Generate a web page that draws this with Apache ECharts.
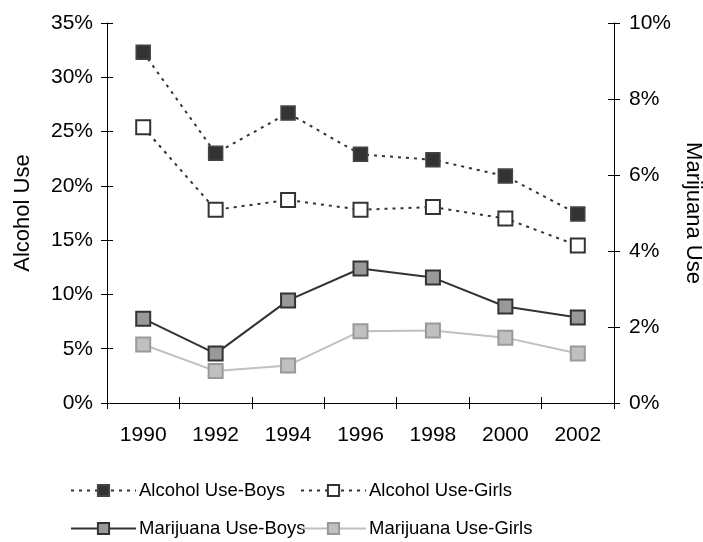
<!DOCTYPE html>
<html>
<head>
<meta charset="utf-8">
<script src="https://cdn.jsdelivr.net/npm/echarts@6/dist/echarts.min.js"></script>
<style>
html,body{margin:0;padding:0;background:#fff;}
#chart{width:703px;height:542px;}
</style>
</head>
<body>
<div id="chart"></div>
<script>
const years = ['1990','1992','1994','1996','1998','2000','2002'];
const alcoholBoys  = [32.3, 23.0, 26.7, 22.9, 22.4, 20.9, 17.4];
const alcoholGirls = [25.4, 17.8, 18.7, 17.8, 18.05, 17.0, 14.5];
const marijuanaBoys  = [2.22, 1.30, 2.70, 3.54, 3.30, 2.54, 2.25];
const marijuanaGirls = [1.54, 0.84, 0.99, 1.89, 1.91, 1.72, 1.30];
const seriesNames = ['Alcohol Use-Boys','Alcohol Use-Girls','Marijuana Use-Boys','Marijuana Use-Girls'];

const FONT = 'Liberation Sans, Arial, sans-serif';
const chart = echarts.init(document.getElementById('chart'), null, {renderer:'canvas'});

const axisLineStyle = {show:true, lineStyle:{color:'#000', width:1}};
const legendBase = {
  orient:'horizontal', itemWidth:65, itemHeight:14, itemGap:0,
  textStyle:{fontFamily:FONT, fontSize:18.5, color:'#000', padding:[0,0,0,-2]},
  padding:0
};

chart.setOption({
  animation:false,
  backgroundColor:'#fff',
  grid:{left:107, right:89, top:23, bottom:139, containLabel:false, outerBoundsMode:'none'},
  xAxis:[
    {type:'category', data:years, boundaryGap:true, position:'bottom',
     axisLine:axisLineStyle,
     axisTick:{show:true, length:6, inside:false, lineStyle:{color:'#000'}},
     axisLabel:{fontFamily:FONT, fontSize:21, color:'#000', margin:22},
     splitLine:{show:false}},
    {type:'category', data:years, boundaryGap:true, position:'bottom',
     axisLine:{show:false},
     axisTick:{show:true, length:6, inside:true, lineStyle:{color:'#000'}},
     axisLabel:{show:false}, splitLine:{show:false}}
  ],
  yAxis:[
    {type:'value', min:0, max:35, interval:5, position:'left',
     name:'Alcohol Use', nameLocation:'middle', nameGap:73, nameRotate:90,
     nameTextStyle:{fontFamily:FONT, fontSize:22, color:'#000'},
     axisLine:axisLineStyle,
     axisTick:{show:true, length:6, lineStyle:{color:'#000'}},
     axisLabel:{fontFamily:FONT, fontSize:21, color:'#000', margin:14, formatter:v=>v+'%'},
     splitLine:{show:false}},
    {type:'value', min:0, max:10, interval:2, position:'right',
     name:'Marijuana Use', nameLocation:'middle', nameGap:66, nameRotate:-90,
     nameTextStyle:{fontFamily:FONT, fontSize:22, color:'#000'},
     axisLine:axisLineStyle,
     axisTick:{show:true, length:6, lineStyle:{color:'#000'}},
     axisLabel:{fontFamily:FONT, fontSize:21, color:'#000', margin:15, formatter:v=>v+'%'},
     splitLine:{show:false}},
    {type:'value', min:0, max:35, interval:5, position:'left',
     axisLine:{show:false}, axisTick:{show:true, inside:true, length:6, lineStyle:{color:'#000'}},
     axisLabel:{show:false}, splitLine:{show:false}},
    {type:'value', min:0, max:10, interval:2, position:'right',
     axisLine:{show:false}, axisTick:{show:true, inside:true, length:6, lineStyle:{color:'#000'}},
     axisLabel:{show:false}, splitLine:{show:false}}
  ],
  legend:[
    Object.assign({}, legendBase, {data:[seriesNames[0]], left:70, top:481}),
    Object.assign({}, legendBase, {data:[seriesNames[1]], left:300, top:481}),
    Object.assign({}, legendBase, {data:[seriesNames[2]], left:70, top:519}),
    Object.assign({}, legendBase, {data:[seriesNames[3]], left:300, top:519})
  ],
  series:[
    {name:seriesNames[0], type:'line', data:alcoholBoys, yAxisIndex:0, xAxisIndex:0,
     symbol:'rect', symbolSize:14, showSymbol:true,
     lineStyle:{color:'#333', width:2, type:[3,5]},
     itemStyle:{color:'#333', borderColor:'#444', borderWidth:1.5}, z:4},
    {name:seriesNames[1], type:'line', data:alcoholGirls, yAxisIndex:0, xAxisIndex:0,
     symbol:'rect', symbolSize:14, showSymbol:true,
     lineStyle:{color:'#333', width:2, type:[3,5]},
     itemStyle:{color:'#fff', borderColor:'#333', borderWidth:2}, z:4},
    {name:seriesNames[2], type:'line', data:marijuanaBoys, yAxisIndex:1, xAxisIndex:0,
     symbol:'rect', symbolSize:14, showSymbol:true,
     lineStyle:{color:'#333', width:2, type:'solid'},
     itemStyle:{color:'#999', borderColor:'#333', borderWidth:2}, z:3},
    {name:seriesNames[3], type:'line', data:marijuanaGirls, yAxisIndex:1, xAxisIndex:0,
     symbol:'rect', symbolSize:14, showSymbol:true,
     lineStyle:{color:'#c0c0c0', width:2, type:'solid'},
     itemStyle:{color:'#c0c0c0', borderColor:'#999', borderWidth:2}, z:2}
  ]
});
</script>
</body>
</html>
